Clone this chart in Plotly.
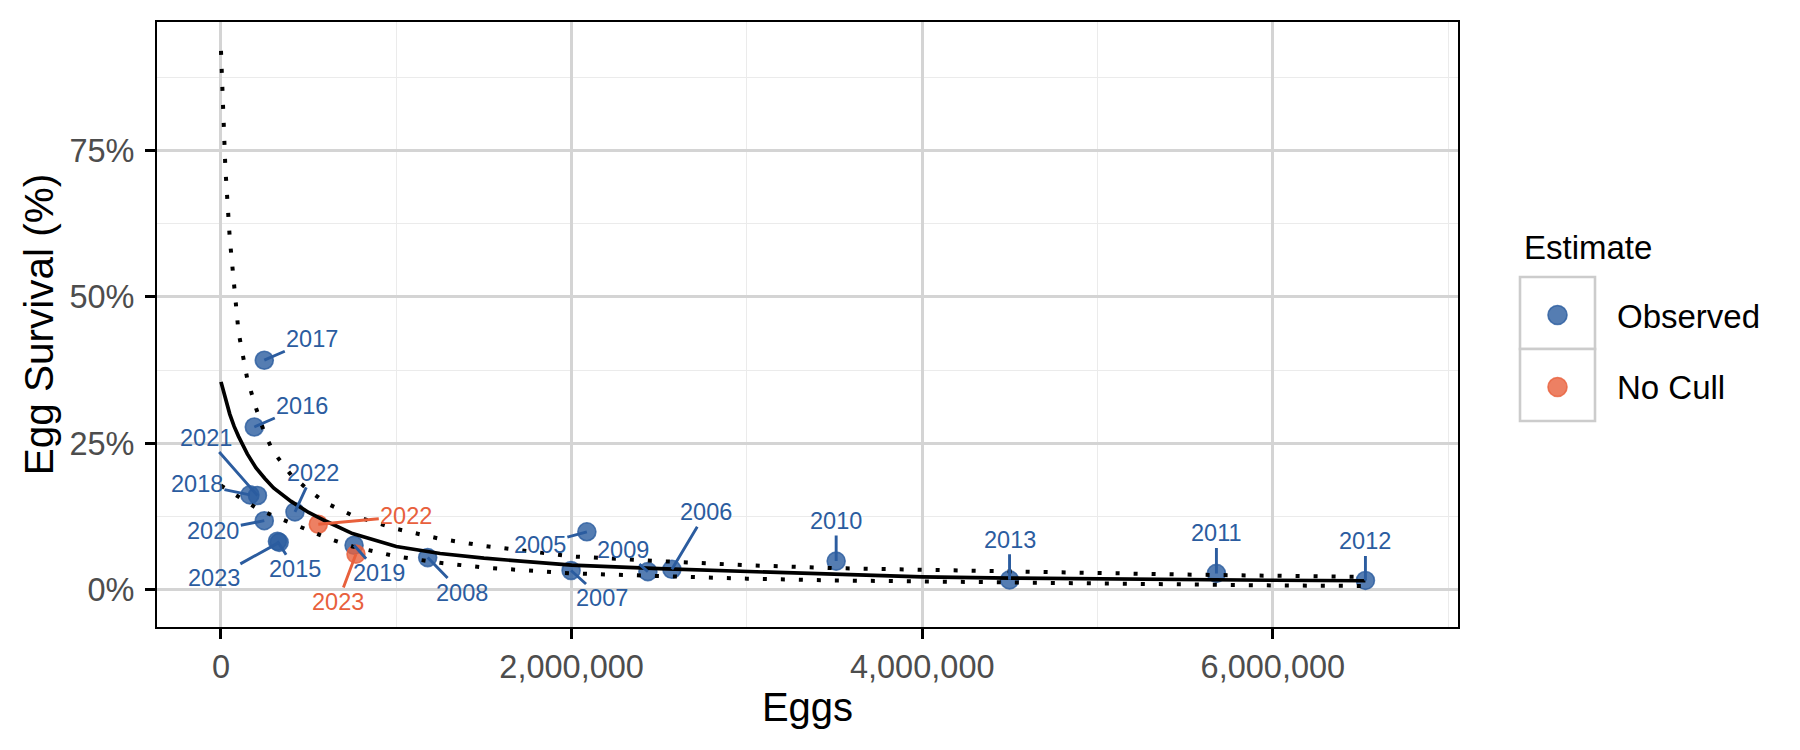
import plotly.graph_objects as go

# ---------------- data ----------------
obs_year = [2005, 2006, 2007, 2008, 2009, 2010, 2011, 2012, 2013,
            2015, 2016, 2017, 2018, 2019, 2020, 2021, 2022, 2023]
obs_eggs = [2087000, 2572000, 1997000, 1179000, 2435000, 3509000, 5678000, 6528000, 4498000,
            322000, 190000, 247000, 165000, 759000, 247000, 208000, 422000, 332000]
obs_surv = [0.099, 0.035, 0.033, 0.055, 0.031, 0.049, 0.028, 0.016, 0.017,
            0.083, 0.278, 0.392, 0.162, 0.076, 0.118, 0.161, 0.133, 0.081]

nocull_year = [2022, 2023]
nocull_eggs = [555000, 770000]
nocull_surv = [0.112, 0.061]

fit_eggs = [0, 10000, 25000, 50000, 75000, 100000, 150000, 200000, 250000, 300000,
            400000, 500000, 600000, 750000, 1000000, 1250000, 1500000, 2000000,
            2500000, 3000000, 3500000, 4000000, 4500000, 5000000, 5500000, 6000000, 6528000]
fit_mid = [0.355, 0.343, 0.326, 0.300, 0.279, 0.262, 0.232, 0.208, 0.190, 0.174,
           0.151, 0.132, 0.117, 0.096, 0.074, 0.062, 0.054, 0.042,
           0.036, 0.031, 0.026, 0.022, 0.020, 0.0185, 0.0175, 0.0163, 0.0155]
fit_upper = [0.920, 0.830, 0.720, 0.600, 0.510, 0.440, 0.360, 0.310, 0.266, 0.235,
             0.196, 0.170, 0.148, 0.127, 0.104, 0.087, 0.075, 0.057,
             0.049, 0.042, 0.037, 0.034, 0.031, 0.029, 0.026, 0.024, 0.022]
fit_lower = [0.178, 0.176, 0.173, 0.168, 0.163, 0.158, 0.149, 0.140, 0.133, 0.126,
             0.114, 0.101, 0.089, 0.074, 0.057, 0.046, 0.038, 0.028,
             0.023, 0.019, 0.016, 0.014, 0.012, 0.010, 0.009, 0.0075, 0.0065]

x_tick_step = 2000000
y_tick_step = 0.25

legend_title = "Estimate"
legend_labels = ["Observed", "No Cull"]

# label offsets (pixels, from point to label centre) - styling only
obs_label_offset = {
    2005: (-47, 13), 2006: (34, -57), 2007: (31, 28), 2008: (34, 35), 2009: (-25, -22),
    2010: (0, -40), 2011: (0, -40), 2012: (0, -39), 2013: (0, -40), 2015: (18, 28),
    2016: (48, -21), 2017: (48, -21), 2018: (-53, -11), 2019: (25, 28), 2020: (-51, 10),
    2021: (-51, -58), 2022: (18, -39), 2023: (-65, 36),
}
nocull_label_offset = {2022: (88, -8), 2023: (-18, 48)}

# ---------------- style ----------------
W, H = 1800, 750
ML, MR, MT, MB = 157, 342, 22, 123
PW = W - ML - MR
PH = H - MT - MB


def px(xp):
    return (xp - ML) / PW


def py(yp):
    return (H - MB - yp) / PH


FONT = "Liberation Sans, Arial, Helvetica, sans-serif"
BLUE = "#2B5C9F"
ORANGE = "#E8603C"
BLUE_FILL = "rgba(43,92,159,0.8)"
ORANGE_FILL = "rgba(232,96,60,0.8)"

fig = go.Figure()

# points first (lines are drawn over them in the reference)
fig.add_trace(go.Scatter(
    x=obs_eggs, y=obs_surv, mode="markers", name=legend_labels[0],
    marker=dict(size=18, color=BLUE_FILL, line=dict(color=BLUE_FILL, width=1.6)),
    text=[str(y) for y in obs_year], hovertemplate="%{text}: %{x:,}, %{y:.1%}<extra></extra>",
))
fig.add_trace(go.Scatter(
    x=nocull_eggs, y=nocull_surv, mode="markers", name=legend_labels[1],
    marker=dict(size=18, color=ORANGE_FILL, line=dict(color=ORANGE_FILL, width=1.6)),
    text=[str(y) for y in nocull_year], hovertemplate="%{text}: %{x:,}, %{y:.1%}<extra></extra>",
))

dot = dict(color="black", width=4, dash="4px,14px")
fig.add_trace(go.Scatter(x=fit_eggs, y=fit_upper, mode="lines", line=dot, hoverinfo="skip", name="Upper"))
fig.add_trace(go.Scatter(x=fit_eggs, y=fit_lower, mode="lines", line=dot, hoverinfo="skip", name="Lower"))
fig.add_trace(go.Scatter(x=fit_eggs, y=fit_mid, mode="lines", line=dict(color="black", width=3.7),
                         hoverinfo="skip", name="Fit"))

annotations = []
for yr, e, s in zip(obs_year, obs_eggs, obs_surv):
    ax, ay = obs_label_offset[yr]
    annotations.append(dict(x=e, y=s, xref="x", yref="y", text=str(yr), showarrow=True,
                            ax=ax, ay=ay, arrowhead=0, arrowwidth=2.9, arrowcolor=BLUE,
                            standoff=0, font=dict(size=23.5, color=BLUE, family=FONT)))
for yr, e, s in zip(nocull_year, nocull_eggs, nocull_surv):
    ax, ay = nocull_label_offset[yr]
    annotations.append(dict(x=e, y=s, xref="x", yref="y", text=str(yr), showarrow=True,
                            ax=ax, ay=ay, arrowhead=0, arrowwidth=2.9, arrowcolor=ORANGE,
                            standoff=0, font=dict(size=23.5, color=ORANGE, family=FONT)))

# manual legend (ggplot-style keys)
annotations.append(dict(x=px(1522), y=py(247), xref="paper", yref="paper", text=legend_title,
                        showarrow=False, xanchor="left", yanchor="middle",
                        font=dict(size=33, color="black", family=FONT)))
shapes = []
key_centres = [313, 385]
key_fills = [BLUE_FILL, ORANGE_FILL]
for lab, cy, fill in zip(legend_labels, key_centres, key_fills):
    shapes.append(dict(type="rect", xref="paper", yref="paper",
                       x0=px(1520), x1=px(1595), y0=py(cy - 36), y1=py(cy + 36),
                       line=dict(color="#CCCCCC", width=2.6), fillcolor="white", layer="above"))
    shapes.append(dict(type="circle", xref="paper", yref="paper",
                       x0=px(1557.5 - 9.5), x1=px(1557.5 + 9.5), y0=py(cy + 2 - 9.5), y1=py(cy + 2 + 9.5),
                       line=dict(color=fill, width=1.6), fillcolor=fill, layer="above"))
    annotations.append(dict(x=px(1615), y=py(cy + 3), xref="paper", yref="paper", text=lab,
                            showarrow=False, xanchor="left", yanchor="middle",
                            font=dict(size=33, color="black", family=FONT)))

fig.update_layout(
    width=W, height=H, margin=dict(l=ML, r=MR, t=MT, b=MB),
    paper_bgcolor="white", plot_bgcolor="white", showlegend=False,
    font=dict(family=FONT), annotations=annotations, shapes=shapes,
)

axis_common = dict(
    ticks="outside", ticklen=10, tickwidth=2.5, tickcolor="black",
    tickfont=dict(size=32.5, color="#4D4D4D", family=FONT),
    showgrid=True, gridcolor="#D4D4D4", gridwidth=2.6,
    showline=True, mirror=True, linecolor="black", linewidth=2, zeroline=False,
)
fig.update_xaxes(
    range=[-365000, 7056000], tick0=0, dtick=x_tick_step, tickformat=",",
    minor=dict(dtick=x_tick_step / 2, tick0=0, showgrid=True, gridcolor="#EBEBEB", gridwidth=1.4, ticks=""),
    title=dict(text="Eggs", font=dict(size=40, color="black", family=FONT), standoff=3),
    ticklabelstandoff=0, **axis_common,
)
fig.update_yaxes(
    range=[-0.0635, 0.9694], tick0=0, dtick=y_tick_step, tickformat=".0%",
    minor=dict(dtick=y_tick_step / 2, tick0=0, showgrid=True, gridcolor="#EBEBEB", gridwidth=1.4, ticks=""),
    title=dict(text="Egg Survival (%)", font=dict(size=40.5, color="black", family=FONT), standoff=3),
    ticklabelstandoff=4, **axis_common,
)

fig.write_html("out.html")
